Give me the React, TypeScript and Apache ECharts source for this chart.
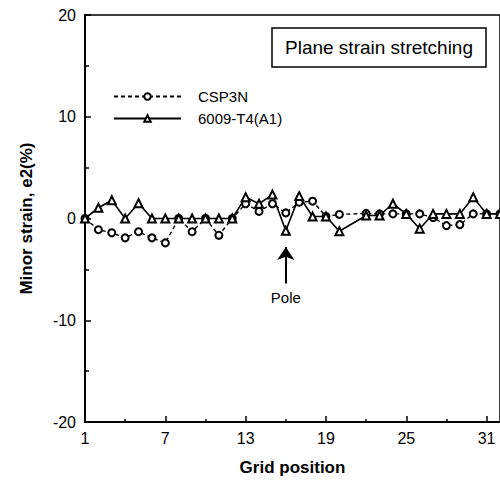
import React, { useEffect, useRef } from "react";
import * as echarts from "echarts";

const gridPositions = [
  1, 2, 3, 4, 5, 6, 7, 8, 9, 10, 11, 12, 13, 14, 15, 16,
  17, 18, 19, 20, 21, 22, 23, 24, 25, 26, 27, 28, 29, 30, 31, 32,
];
const csp3n: (number | null)[] = [
  0, -1.1, -1.4, -1.9, -1.3, -1.9, -2.4, 0, -1.3, 0, -1.65, 0, 1.45, 0.7, 1.45, 0.55,
  1.6, 1.7, 0.2, 0.4, null, 0.5, 0.45, 0.45, 0.45, 0.45, 0.1, -0.7, -0.6, 0.45, 0.45, 0.45,
];
const al6009: (number | null)[] = [
  0, 1.05, 1.8, 0, 1.5, 0, 0, 0, 0, 0, 0, 0, 2.1, 1.45, 2.35, -1.2,
  2.2, 0.2, 0.2, -1.25, null, 0.3, 0.3, 1.45, 0.45, -1.0, 0.45, 0.45, 0.45, 2.1, 0.45, 0.45,
];
const xLabelTicks = [1, 7, 13, 19, 25, 31];
const xMinorTicks = [4, 10, 16, 22, 28];
const poleX = 16;
const poleArrowY = [-6.4, -2.8];
const seriesNames = ["CSP3N", "6009-T4(A1)"];
const titleText = "Plane strain stretching";
const poleText = "Pole";

const FONT = "'Liberation Sans', Arial, Helvetica, sans-serif";

export default function App() {
  const ref = useRef<HTMLDivElement>(null);
  useEffect(() => {
    if (!ref.current) return;
    const chart = echarts.init(ref.current, undefined, { renderer: "svg" });
    const toData = (arr: (number | null)[]) =>
      gridPositions.map((x, i) => [x, arr[i]]);
    chart.setOption({
      animation: false,
      backgroundColor: "#fff",
      textStyle: { fontFamily: FONT, color: "#000" },
      title: {
        text: titleText,
        left: 272,
        top: 28,
        padding: [10, 13],
        borderWidth: 1.5,
        borderColor: "#000",
        textStyle: { fontSize: 19, fontWeight: "normal", color: "#000", fontFamily: FONT },
      },
      legend: {
        data: seriesNames,
        orient: "vertical",
        left: 108,
        top: 84,
        itemWidth: 67,
        itemHeight: 8,
        itemGap: 7,
        textStyle: { fontSize: 15, color: "#000", fontFamily: FONT, padding: [0, 0, 0, 12] },
      },
      grid: {
        left: 85,
        top: 15,
        width: 418,
        bottom: 66,
        show: true,
        borderColor: "#000",
        borderWidth: 1.5,
      },
      xAxis: [
        {
          type: "value",
          min: 1,
          max: 32,
          name: "Grid position",
          nameLocation: "middle",
          nameGap: 37,
          nameTextStyle: { fontSize: 17, fontWeight: "bold", color: "#000", fontFamily: FONT },
          axisLine: { onZero: false, lineStyle: { color: "#000", width: 2 } },
          axisTick: { inside: true, length: 6, customValues: xLabelTicks, lineStyle: { color: "#000", width: 1.5 } },
          axisLabel: { customValues: xLabelTicks, fontSize: 16, color: "#000", margin: 8, fontFamily: FONT },
          splitLine: { show: false },
        },
        {
          type: "value",
          min: 1,
          max: 32,
          position: "bottom",
          axisLine: { show: false, onZero: false },
          axisTick: { inside: true, length: 3, customValues: xMinorTicks, lineStyle: { color: "#000", width: 1.5 } },
          axisLabel: { show: false },
          splitLine: { show: false },
        },
      ],
      yAxis: {
        type: "value",
        min: -20,
        max: 20,
        interval: 10,
        name: "Minor strain, e2(%)",
        nameLocation: "middle",
        nameGap: 50,
        nameTextStyle: { fontSize: 17, fontWeight: "bold", color: "#000", fontFamily: FONT },
        axisLine: { show: true, onZero: false, lineStyle: { color: "#000", width: 2 } },
        axisTick: { show: true, inside: true, length: 6, lineStyle: { color: "#000", width: 1.5 } },
        minorTick: { show: true, splitNumber: 2, length: 4, lineStyle: { color: "#000", width: 1.5 } },
        axisLabel: { fontSize: 16, color: "#000", margin: 9, fontFamily: FONT },
        splitLine: { show: false },
      },
      series: [
        {
          name: seriesNames[0],
          type: "line",
          data: toData(csp3n),
          connectNulls: true,
          symbol: "emptyCircle",
          symbolSize: 7,
          itemStyle: { color: "#000", borderWidth: 1.5 },
          lineStyle: { color: "#000", width: 1.4, type: [4, 3] },
        },
        {
          name: seriesNames[1],
          type: "line",
          data: toData(al6009),
          connectNulls: true,
          symbol: "emptyTriangle",
          symbolSize: 8,
          itemStyle: { color: "#000", borderWidth: 1.5 },
          lineStyle: { color: "#000", width: 1.6 },
          markLine: {
            silent: true,
            symbol: ["none", "arrow"],
            symbolSize: 13,
            lineStyle: { color: "#000", width: 2, type: "solid" },
            label: {
              show: true,
              position: "start",
              formatter: poleText,
              fontSize: 15,
              color: "#000",
              fontFamily: FONT,
              distance: 6,
            },
            data: [[{ coord: [poleX, poleArrowY[0]] }, { coord: [poleX, poleArrowY[1]] }]],
          },
        },
      ],
    });
    return () => chart.dispose();
  }, []);
  return (
    <div
      ref={ref}
      style={{ position: "fixed", left: 0, top: 0, width: 500, height: 488, background: "#fff" }}
    />
  );
}
